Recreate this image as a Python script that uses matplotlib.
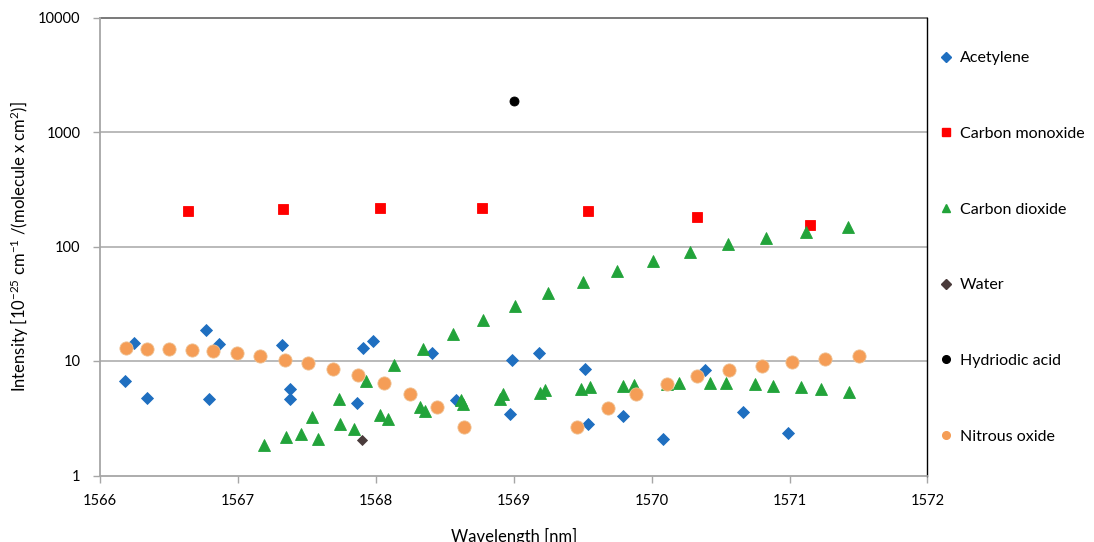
import numpy as np, matplotlib
matplotlib.use("Agg")
import matplotlib.pyplot as plt
from matplotlib.lines import Line2D
from matplotlib.ticker import FixedLocator, FuncFormatter, NullLocator

plt.rcParams.update({"font.family": ["Lato", "DejaVu Sans"], "font.size": 10.5,
                     "mathtext.default": "regular"})

# data
acet_x = [1566.18, 1566.25, 1566.34, 1566.77, 1566.79, 1566.86, 1567.32, 1567.38, 1567.38,
          1567.86, 1567.91, 1567.98, 1568.41, 1568.58, 1568.97, 1568.99, 1569.18, 1569.52,
          1569.54, 1569.79, 1570.08, 1570.39, 1570.66, 1570.99]
acet_y = [6.66, 14.3, 4.77, 18.5, 4.7, 14.1, 13.9, 5.64, 4.62,
          4.31, 12.97, 15.1, 11.8, 4.55, 3.44, 10.3, 11.7, 8.47,
          2.82, 3.32, 2.07, 8.42, 3.58, 2.33]
co_x = [1566.64, 1567.33, 1568.03, 1568.77, 1569.54, 1570.33, 1571.15]
co_y = [205, 213, 217, 215, 205, 181, 155]
co2_x = [1567.19, 1567.35, 1567.46, 1567.54, 1567.58, 1567.73, 1567.74, 1567.84, 1567.93,
         1568.03, 1568.09, 1568.13, 1568.32, 1568.34, 1568.36, 1568.56, 1568.62, 1568.63,
         1568.78, 1568.90, 1568.92, 1569.01, 1569.19, 1569.23, 1569.25, 1569.49, 1569.50,
         1569.55, 1569.75, 1569.79, 1569.87, 1570.01, 1570.11, 1570.20, 1570.28, 1570.42,
         1570.54, 1570.55, 1570.75, 1570.83, 1570.88, 1571.08, 1571.12, 1571.23, 1571.42,
         1571.43]
co2_y = [1.85, 2.17, 2.31, 3.22, 2.07, 4.64, 2.8, 2.56, 6.66,
         3.37, 3.11, 9.18, 3.93, 12.8, 3.65, 17.3, 4.55, 4.2,
         23.0, 4.7, 5.1, 30.0, 5.27, 5.56, 39.5, 5.75, 49.3,
         5.94, 61.2, 6.1, 6.23, 74.0, 6.3, 6.44, 88.7, 6.44,
         6.44, 105, 6.36, 118, 6.1, 5.87, 134, 5.64, 148,
         5.34]
water_x = [1567.90]
water_y = [2.03]
hi_x = [1569.00]
hi_y = [1850]
n2o_x = [1566.19, 1566.34, 1566.50, 1566.67, 1566.82, 1566.99, 1567.16, 1567.34, 1567.51,
         1567.69, 1567.87, 1568.06, 1568.25, 1568.44, 1568.64, 1569.46, 1569.68, 1569.89,
         1570.11, 1570.33, 1570.56, 1570.80, 1571.02, 1571.26, 1571.50]
n2o_y = [13.0, 12.8, 12.8, 12.6, 12.2, 11.7, 11.0, 10.3, 9.6,
         8.47, 7.5, 6.44, 5.2, 3.98, 2.67, 2.67, 3.9, 5.1,
         6.3, 7.36, 8.3, 9.12, 9.88, 10.5, 11.1]

series = [("Acetylene", acet_x, acet_y, "D", "#1f6fc0", 6.5),
          ("Carbon monoxide", co_x, co_y, "s", "#ff0000", 7.5),
          ("Carbon dioxide", co2_x, co2_y, "^", "#22a33a", 8.5),
          ("Water", water_x, water_y, "D", "#4a3b3b", 5.5),
          ("Hydriodic acid", hi_x, hi_y, "o", "#000000", 6.5),
          ("Nitrous oxide", n2o_x, n2o_y, "o", "#f59d56", 9.5)]

fig = plt.figure(figsize=(10.94, 5.42), dpi=100)
ax = fig.add_axes([100/1094, 1-475.5/542, 827.5/1094, 458/542])
ax.set_yscale("log")
ax.set_xlim(1566, 1572); ax.set_ylim(1, 10000)

handles = []
for name, xs, ys, m, c, ms in series:
    ax.plot(xs, ys, ls="none", marker=m, color=c, mec=c if name != "Nitrous oxide" else "#f0c090",
            mew=0.6, ms=ms, zorder=3)
    handles.append(Line2D([], [], ls="none", marker=m, color=c, ms=5.5 if m != "^" else 6, label=name))

ax.yaxis.set_major_locator(FixedLocator([1, 10, 100, 1000, 10000]))
ax.yaxis.set_minor_locator(NullLocator())
ax.yaxis.set_major_formatter(FuncFormatter(lambda v, p: f"{int(round(v))}"))
ax.set_xticks(np.arange(1566, 1573, 1))
for v in [10, 100, 1000]:
    ax.axhline(v, color="#b4b4b4", lw=1.3, zorder=1)
ax.axhline(10000, color="#6e6e6e", lw=1.3, zorder=1, clip_on=False)
for s in ["left", "bottom"]:
    ax.spines[s].set_color("#a6a6a6"); ax.spines[s].set_linewidth(1.3)
ax.spines["top"].set_visible(False)
ax.spines["right"].set_color("black"); ax.spines["right"].set_linewidth(1.0)
ax.tick_params(axis="both", which="major", direction="out", length=5, color="#a6a6a6",
               labelsize=10.5, width=1.0)
ax.tick_params(axis="x", pad=8)
ax.tick_params(axis="y", pad=9)

ax.set_xlabel("Wavelength [nm]", fontsize=12, labelpad=15)
ax.set_ylabel(r"Intensity [10$^{-25}$ cm$^{-1}$ /(molecule x cm$^{2}$)]", fontsize=12, labelpad=5)

fig.legend(handles=handles, loc="upper left", bbox_to_anchor=(932/1094, 1-43/542), frameon=False,
           fontsize=11.5, labelspacing=3.85, handlelength=0.8, handletextpad=0.45, borderpad=0)

fig.savefig("out.png", dpi=100)
